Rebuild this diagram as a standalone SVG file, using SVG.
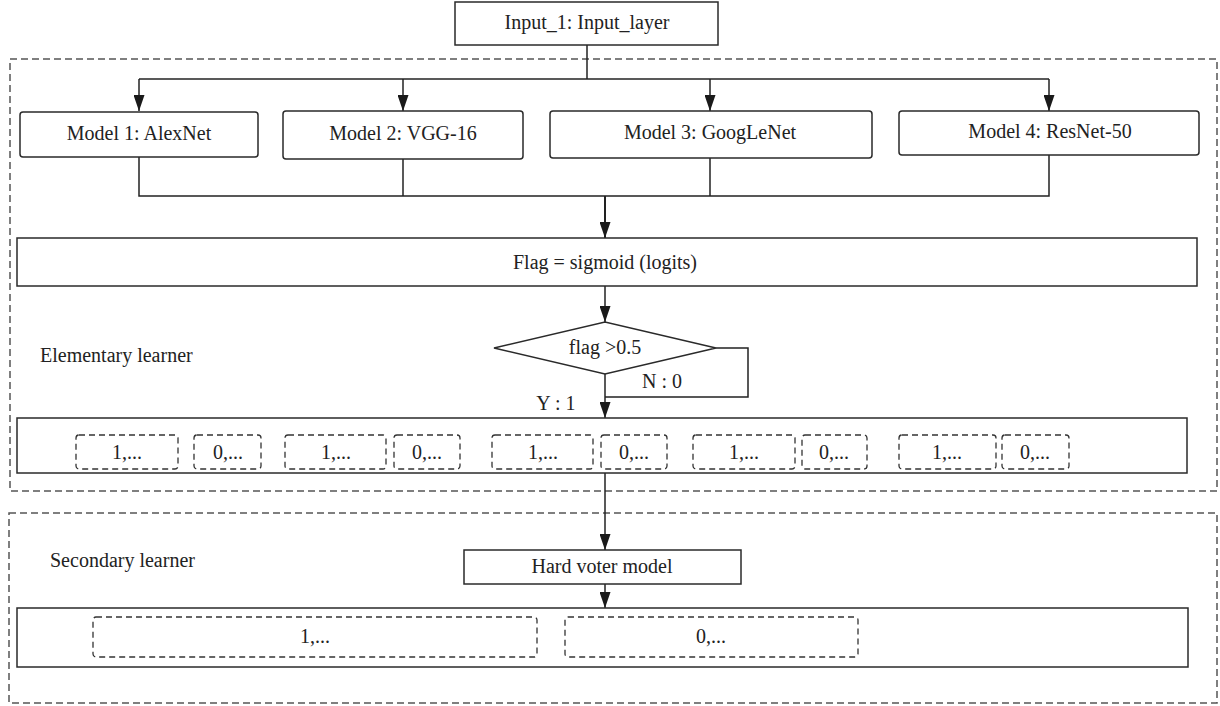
<svg xmlns="http://www.w3.org/2000/svg" width="1220" height="706" viewBox="0 0 1220 706">
  <style>
    .box { fill: #fff; stroke: #2a2a2a; stroke-width: 1.5; }
    .region { fill: none; stroke: #555; stroke-width: 1.5; stroke-dasharray: 7 4; }
    .slot { fill: none; stroke: #333; stroke-width: 1.3; stroke-dasharray: 6 4; }
    .wire { fill: none; stroke: #222; stroke-width: 1.5; }
    text { font-family: "Liberation Serif", "Times New Roman", serif; font-size: 20px; fill: #222; }
    .c { text-anchor: middle; }
  </style>
  <defs>
    <marker id="arrow" viewBox="0 0 16 11" refX="16" refY="5.5" markerWidth="16" markerHeight="11" markerUnits="userSpaceOnUse" orient="auto">
      <path d="M0,0 L16,5.5 L0,11 Z" fill="#1a1a1a"/>
    </marker>
  </defs>

  <!-- learner regions -->
  <g id="elementary-region">
    <rect class="region" x="10" y="59" width="1207" height="432"/>
    <text x="40" y="362">Elementary learner</text>
  </g>
  <g id="secondary-region">
    <rect class="region" x="9" y="513" width="1208" height="190"/>
    <text x="50" y="567">Secondary learner</text>
  </g>

  <!-- connectors -->
  <g id="connectors">
    <polyline class="wire" points="587,45 587,79"/>
    <polyline class="wire" points="139,79 1049,79"/>
    <polyline class="wire" points="139,79 139,111" marker-end="url(#arrow)"/>
    <polyline class="wire" points="403,79 403,111" marker-end="url(#arrow)"/>
    <polyline class="wire" points="710,79 710,111" marker-end="url(#arrow)"/>
    <polyline class="wire" points="1049,79 1049,111" marker-end="url(#arrow)"/>
    <polyline class="wire" points="139,157 139,196 1049,196 1049,155"/>
    <polyline class="wire" points="403,159 403,196"/>
    <polyline class="wire" points="710,158 710,196"/>
    <polyline class="wire" style="stroke-width:2" points="605,196 605,238" marker-end="url(#arrow)"/>
    <polyline class="wire" points="605,286 605,322" marker-end="url(#arrow)"/>
    <polyline class="wire" points="716,348 748,348 748,397 605,397"/>
    <polyline class="wire" points="605,374 605,418" marker-end="url(#arrow)"/>
    <polyline class="wire" points="605,473 605,550" marker-end="url(#arrow)"/>
    <polyline class="wire" points="605,584 605,608" marker-end="url(#arrow)"/>
    <text class="c" x="662" y="388">N : 0</text>
    <text class="c" x="556" y="410">Y : 1</text>
  </g>

  <g id="input">
    <rect class="box" x="455" y="2" width="263" height="43"/>
    <text class="c" x="587" y="29">Input_1: Input_layer</text>
  </g>

  <g id="model1">
    <rect class="box" x="20" y="112" width="238" height="45" rx="3"/>
    <text class="c" x="139" y="140">Model 1: AlexNet</text>
  </g>
  <g id="model2">
    <rect class="box" x="283" y="111" width="240" height="48" rx="3"/>
    <text class="c" x="403" y="140">Model 2: VGG-16</text>
  </g>
  <g id="model3">
    <rect class="box" x="550" y="111" width="322" height="47" rx="3"/>
    <text class="c" x="710" y="139">Model 3: GoogLeNet</text>
  </g>
  <g id="model4">
    <rect class="box" x="899" y="111" width="300" height="44" rx="3"/>
    <text class="c" x="1050" y="138">Model 4: ResNet-50</text>
  </g>

  <g id="flag">
    <rect class="box" x="17" y="238" width="1180" height="48"/>
    <text class="c" x="605" y="269">Flag = sigmoid (logits)</text>
  </g>

  <g id="decision">
    <polygon class="box" points="494,348 605,322 716,348 605,374"/>
    <text class="c" x="605" y="354">flag &gt;0.5</text>
  </g>

  <g id="elementary-outputs">
    <rect class="box" x="17" y="418" width="1170" height="55"/>
    <rect class="slot" x="76" y="435" width="102" height="34" rx="3"/>
    <text class="c" x="127" y="459">1,...</text>
    <rect class="slot" x="194" y="435" width="67" height="34" rx="3"/>
    <text class="c" x="228" y="459">0,...</text>
    <rect class="slot" x="285" y="435" width="101" height="34" rx="3"/>
    <text class="c" x="336" y="459">1,...</text>
    <rect class="slot" x="394" y="435" width="66" height="34" rx="3"/>
    <text class="c" x="427" y="459">0,...</text>
    <rect class="slot" x="492" y="435" width="101" height="34" rx="3"/>
    <text class="c" x="543" y="459">1,...</text>
    <rect class="slot" x="601" y="435" width="66" height="34" rx="3"/>
    <text class="c" x="634" y="459">0,...</text>
    <rect class="slot" x="693" y="435" width="102" height="34" rx="3"/>
    <text class="c" x="744" y="459">1,...</text>
    <rect class="slot" x="802" y="435" width="65" height="34" rx="3"/>
    <text class="c" x="834" y="459">0,...</text>
    <rect class="slot" x="899" y="435" width="97" height="34" rx="3"/>
    <text class="c" x="947" y="459">1,...</text>
    <rect class="slot" x="1002" y="435" width="67" height="34" rx="3"/>
    <text class="c" x="1035" y="459">0,...</text>
  </g>

  <g id="hard-voter">
    <rect class="box" x="464" y="550" width="277" height="34"/>
    <text class="c" x="602" y="573">Hard voter model</text>
  </g>

  <g id="secondary-outputs">
    <rect class="box" x="17" y="608" width="1171" height="59"/>
    <rect class="slot" x="93" y="617" width="444" height="40" rx="3"/>
    <text class="c" x="315" y="643">1,...</text>
    <rect class="slot" x="565" y="617" width="293" height="40" rx="3"/>
    <text class="c" x="711" y="643">0,...</text>
  </g>
</svg>
